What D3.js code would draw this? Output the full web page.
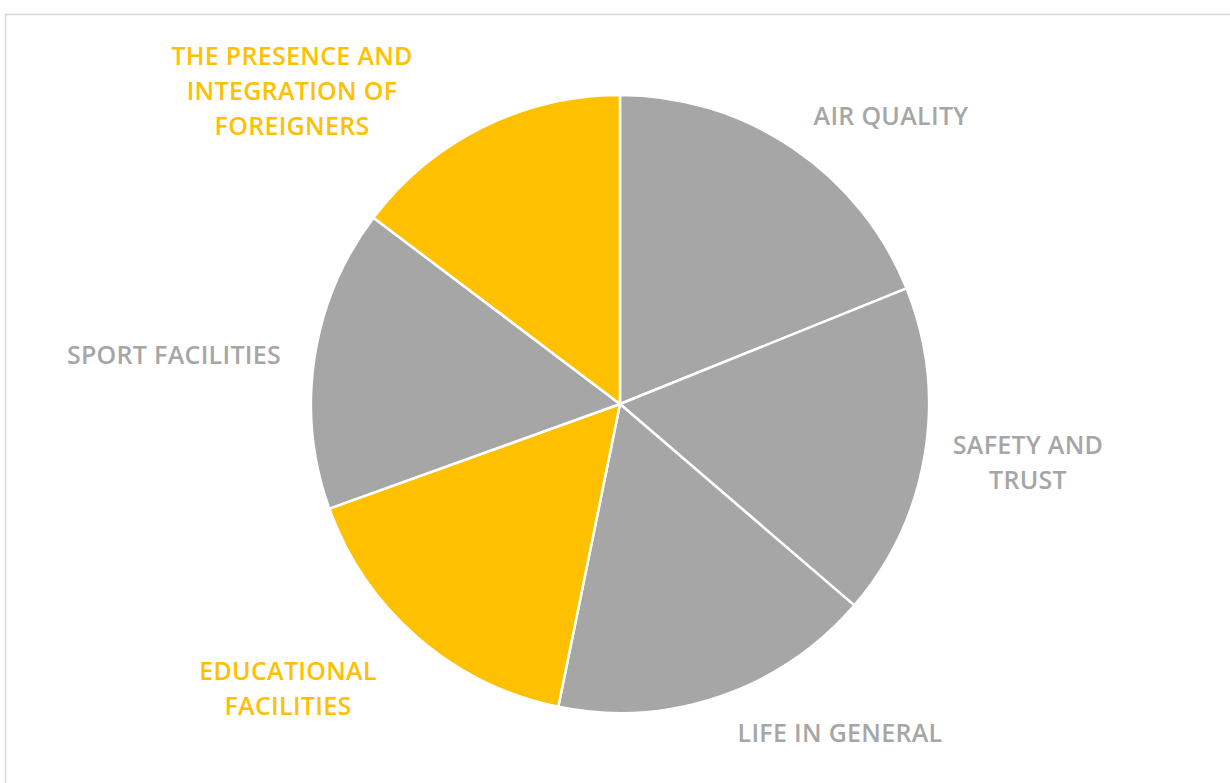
<!DOCTYPE html>
<html>
<head>
<meta charset="utf-8">
<script src="https://cdn.jsdelivr.net/npm/d3@7"></script>
<style>
  body { margin: 0; background: #fff; }
  text { font-family: "Open Sans", sans-serif; font-weight: 600; }
</style>
</head>
<body>
<svg id="chart"></svg>
<script>
var width = 1230;
var height = 783;

// slices, clockwise from 12 o'clock
var categories = ["AIR QUALITY", "SAFETY AND TRUST", "LIFE IN GENERAL", "EDUCATIONAL FACILITIES", "SPORT FACILITIES", "THE PRESENCE AND INTEGRATION OF FOREIGNERS"];
var values = [18.9, 17.4, 16.9, 16.3, 15.8, 14.7];
var highlighted = [false, false, false, true, false, true];
var labelLines = [
	["AIR QUALITY"],
	["SAFETY AND", "TRUST"],
	["LIFE IN GENERAL"],
	["EDUCATIONAL", "FACILITIES"],
	["SPORT FACILITIES"],
	["THE PRESENCE AND", "INTEGRATION OF", "FOREIGNERS"]
];

var grey = "#a6a6a6", gold = "#ffc000";
var cx = 620, cy = 404, radius = 309;

// label anchor points (layout only)
var labelPos = [[891, 116], [1028, 445], [840, 733], [288, 671], [174, 355], [292, 56]];

var svg = d3.select("#chart").attr("width", width).attr("height", height);

svg.append("rect")
	.attr("x", 5.5).attr("y", 14.5)
	.attr("width", width).attr("height", height)
	.attr("fill", "none")
	.attr("stroke", "#d9d9d9")
	.attr("stroke-width", 1.5);

var data = categories.map(function(c, i) { return { name: c, value: values[i], hi: highlighted[i], lines: labelLines[i], i: i }; });

var pie = d3.pie().sort(null).value(function(d) { return d.value; });
var arc = d3.arc().innerRadius(0).outerRadius(radius);

var g = svg.append("g").attr("transform", "translate(" + cx + "," + cy + ")");

g.selectAll("path")
	.data(pie(data))
	.enter().append("path")
	.attr("d", arc)
	.attr("fill", function(d) { return d.data.hi ? gold : grey; })
	.attr("stroke", "#fff")
	.attr("stroke-width", 2.5)
	.attr("stroke-linejoin", "round");

var lineH = 35;
svg.selectAll("text.lbl")
	.data(data)
	.enter().append("text")
	.attr("class", "lbl")
	.attr("text-anchor", "middle")
	.attr("font-size", "25px")
	.attr("letter-spacing", "0.3px")
	.attr("fill", function(d) { return d.hi ? gold : grey; })
	.each(function(d) {
		var t = d3.select(this);
		d.lines.forEach(function(l, k) {
			t.append("tspan")
				.attr("x", labelPos[d.i][0])
				.attr("y", labelPos[d.i][1] + k * lineH)
				.attr("dy", "0.35em")
				.text(l);
		});
	});
</script>
</body>
</html>
